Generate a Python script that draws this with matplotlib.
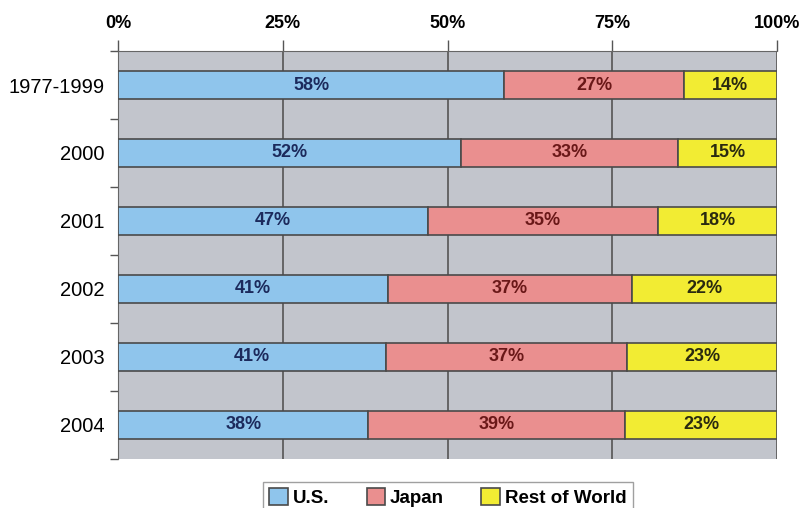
import numpy as np
import matplotlib.pyplot as plt

plt.rcParams['font.family'] = ['Liberation Sans', 'DejaVu Sans']

periods = ['1977-1999', '2000', '2001', '2002', '2003', '2004']
us = [58, 52, 47, 41, 41, 38]
japan = [27, 33, 35, 37, 37, 39]
rest = [14, 15, 18, 22, 23, 23]

series = [('U.S.', us, '#8fc5ec', '#1c2a5c'),
          ('Japan', japan, '#ea8f8f', '#6a1818'),
          ('Rest of World', rest, '#f2ec33', '#2a2a10')]

tot = np.array(us) + np.array(japan) + np.array(rest)
y = np.arange(len(periods))

fig = plt.figure(figsize=(8.04, 5.08), dpi=100)
ax = fig.add_axes([0.1468, 0.0965, 0.8196, 0.8031])
ax.set_facecolor('#c2c5cc')

left = np.zeros(len(periods))
for name, vals, col, tcol in series:
    w = np.array(vals) / tot * 100
    ax.barh(y, w, left=left, height=0.41, color=col, edgecolor='#4a4a4a',
            linewidth=1.2, label=name, zorder=3)
    for yi, li, wi, v in zip(y, left, w, vals):
        ax.text(li + wi / 2, yi, f'{v}%', ha='center', va='center',
                fontsize=13, fontweight='bold', color=tcol, zorder=4)
    left += w

ax.set_xlim(0, 100)
ax.set_ylim(len(periods) - 0.5, -0.5)
ax.set_xticks([0, 25, 50, 75, 100])
ax.set_xticklabels(['0%', '25%', '50%', '75%', '100%'], fontsize=13, fontweight='bold')
ax.xaxis.tick_top()
ax.tick_params(axis='x', length=8, width=1, color='#555555', pad=6)
ax.grid(axis='x', color='#555555', linewidth=1.2, zorder=1)

ax.set_yticks(y)
ax.set_yticklabels(periods, fontsize=14.5)
ax.tick_params(axis='y', length=0, pad=10)
ax.set_yticks(np.arange(-0.5, len(periods)), minor=True)
ax.tick_params(axis='y', which='minor', length=6, width=1, color='#555555')

for s in ['right', 'bottom']:
    ax.spines[s].set_visible(False)
ax.spines['top'].set_color('#666666')
ax.spines['left'].set_color('#666666')

fig.legend(loc='lower center', bbox_to_anchor=(0.557, -0.03), ncol=3,
           prop={'size': 13.5, 'weight': 'bold'}, frameon=True, fancybox=False,
           edgecolor='#888888', handlelength=1.0, handleheight=1.0,
           columnspacing=2.0, handletextpad=0.25, borderpad=0.35)

fig.savefig('out.png', dpi=100)
